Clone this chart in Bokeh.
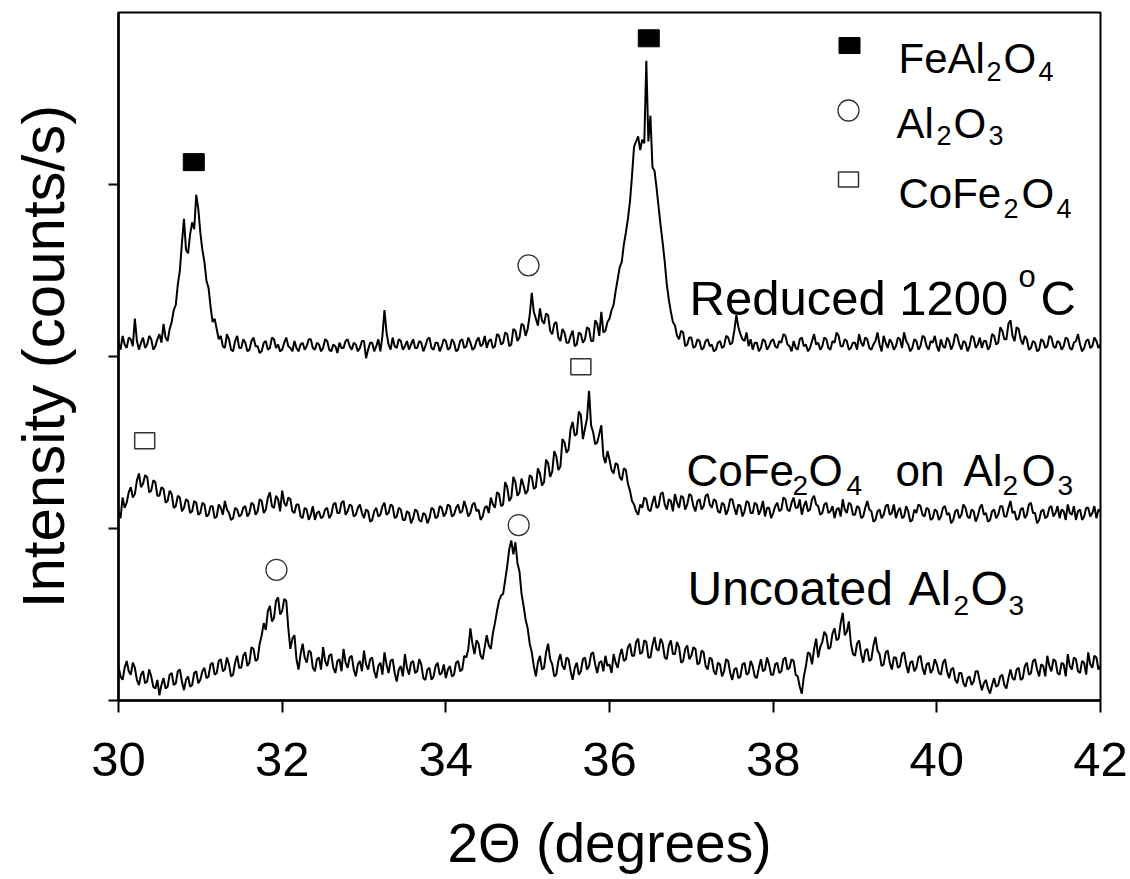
from bokeh.plotting import figure
from bokeh.models import Label, FixedTicker
from bokeh.embed import file_html
from bokeh.resources import INLINE

# ---------------- data ----------------
scan_start = 30.0
scan_step = 0.025

reduced_1200 = [
    2.08, 2.04, 2.12, 2.07, 2.05, 2.11, 2.10, 2.06, 2.22, 2.09, 2.04, 2.08, 2.11, 2.05, 2.07, 2.12, 2.10, 2.04, 2.06, 2.10,
    2.13, 2.08, 2.19, 2.11, 2.09, 2.16, 2.20, 2.27, 2.30, 2.42, 2.50, 2.66, 2.80, 2.62, 2.60, 2.71, 2.78, 2.74, 2.94, 2.86,
    2.72, 2.62, 2.55, 2.44, 2.40, 2.29, 2.20, 2.22, 2.16, 2.10, 2.12, 2.06, 2.05, 2.13, 2.10, 2.04, 2.03, 2.09, 2.12, 2.05,
    2.05, 2.10, 2.08, 2.03, 2.04, 2.09, 2.11, 2.06, 2.06, 2.02, 2.03, 2.08, 2.09, 2.04, 2.05, 2.11, 2.10, 2.05, 2.07, 2.03,
    2.04, 2.08, 2.11, 2.06, 2.05, 2.03, 2.09, 2.05, 2.03, 2.07, 2.08, 2.04, 2.06, 2.10, 2.10, 2.05, 2.04, 2.08, 2.07, 2.03,
    2.05, 2.10, 2.09, 2.04, 2.03, 2.07, 2.06, 2.02, 2.08, 2.05, 2.05, 2.09, 2.10, 2.06, 2.04, 2.08, 2.07, 2.03, 2.05, 2.09,
    2.09, 1.99, 2.04, 2.08, 2.08, 2.03, 2.06, 2.10, 2.03, 2.12, 2.27, 2.14, 2.07, 2.04, 2.11, 2.06, 2.05, 2.10, 2.09, 2.04,
    2.06, 2.09, 2.04, 2.07, 2.10, 2.05, 2.05, 2.09, 2.08, 2.03, 2.06, 2.10, 2.11, 2.05, 2.04, 2.08, 2.08, 2.03, 2.06, 2.10,
    2.09, 2.04, 2.05, 2.10, 2.08, 2.03, 2.04, 2.09, 2.10, 2.05, 2.06, 2.11, 2.08, 2.04, 2.05, 2.09, 2.11, 2.06, 2.07, 2.12,
    2.05, 2.09, 2.10, 2.05, 2.06, 2.13, 2.12, 2.07, 2.08, 2.14, 2.13, 2.06, 2.07, 2.16, 2.15, 2.09, 2.11, 2.19, 2.18, 2.12,
    2.16, 2.24, 2.37, 2.26, 2.22, 2.18, 2.28, 2.21, 2.19, 2.25, 2.24, 2.15, 2.13, 2.19, 2.20, 2.11, 2.09, 2.16, 2.14, 2.08,
    2.08, 2.12, 2.15, 2.06, 2.07, 2.14, 2.13, 2.08, 2.10, 2.17, 2.16, 2.09, 2.09, 2.21, 2.19, 2.12, 2.26, 2.14, 2.15, 2.20,
    2.22, 2.27, 2.30, 2.38, 2.45, 2.52, 2.55, 2.65, 2.72, 2.80, 2.90, 3.05, 3.22, 3.25, 3.28, 3.20, 3.26, 3.24, 3.72, 3.25,
    3.40, 3.10, 3.08, 2.98, 2.87, 2.76, 2.66, 2.55, 2.42, 2.33, 2.26, 2.20, 2.18, 2.12, 2.10, 2.15, 2.14, 2.06, 2.07, 2.11,
    2.11, 2.05, 2.06, 2.10, 2.09, 2.04, 2.05, 2.09, 2.10, 2.06, 2.07, 2.03, 2.04, 2.08, 2.09, 2.05, 2.06, 2.12, 2.11, 2.07,
    2.08, 2.15, 2.24, 2.17, 2.13, 2.10, 2.09, 2.14, 2.06, 2.10, 2.04, 2.08, 2.08, 2.03, 2.05, 2.10, 2.09, 2.04, 2.06, 2.09,
    2.10, 2.06, 2.05, 2.09, 2.08, 2.13, 2.12, 2.07, 2.06, 2.03, 2.09, 2.05, 2.04, 2.10, 2.11, 2.06, 2.07, 2.03, 2.05, 2.09,
    2.13, 2.07, 2.08, 2.04, 2.06, 2.11, 2.10, 2.05, 2.04, 2.09, 2.08, 2.14, 2.12, 2.06, 2.06, 2.10, 2.09, 2.04, 2.05, 2.08,
    2.08, 2.04, 2.13, 2.08, 2.06, 2.11, 2.10, 2.05, 2.04, 2.07, 2.09, 2.14, 2.07, 2.03, 2.12, 2.08, 2.05, 2.10, 2.08, 2.04,
    2.06, 2.11, 2.10, 2.05, 2.14, 2.09, 2.07, 2.03, 2.05, 2.10, 2.09, 2.04, 2.06, 2.12, 2.11, 2.06, 2.04, 2.09, 2.08, 2.12,
    2.06, 2.03, 2.10, 2.06, 2.05, 2.11, 2.09, 2.04, 2.07, 2.13, 2.12, 2.07, 2.04, 2.09, 2.08, 2.03, 2.06, 2.12, 2.11, 2.05,
    2.07, 2.11, 2.05, 2.09, 2.09, 2.04, 2.06, 2.13, 2.12, 2.07, 2.08, 2.17, 2.15, 2.10, 2.10, 2.19, 2.21, 2.12, 2.09, 2.17,
    2.16, 2.10, 2.07, 2.12, 2.10, 2.04, 2.05, 2.09, 2.08, 2.03, 2.04, 2.10, 2.09, 2.05, 2.06, 2.12, 2.11, 2.06, 2.05, 2.09,
    2.08, 2.04, 2.06, 2.11, 2.10, 2.05, 2.04, 2.08, 2.09, 2.13, 2.07, 2.03, 2.05, 2.09, 2.10, 2.05, 2.06, 2.11, 2.09, 2.05,
    2.07,
]

cofe2o4_on_al2o3 = [
    1.10, 1.06, 1.18, 1.12, 1.15, 1.21, 1.24, 1.18, 1.20, 1.28, 1.32, 1.24, 1.26, 1.31, 1.30, 1.21, 1.22, 1.28, 1.27, 1.19,
    1.19, 1.24, 1.23, 1.15, 1.16, 1.22, 1.20, 1.12, 1.13, 1.19, 1.18, 1.10, 1.12, 1.17, 1.16, 1.09, 1.10, 1.16, 1.15, 1.08,
    1.09, 1.15, 1.14, 1.07, 1.08, 1.13, 1.13, 1.06, 1.07, 1.14, 1.12, 1.08, 1.16, 1.11, 1.09, 1.05, 1.06, 1.12, 1.11, 1.07,
    1.08, 1.12, 1.13, 1.07, 1.09, 1.15, 1.14, 1.08, 1.10, 1.17, 1.16, 1.09, 1.11, 1.18, 1.21, 1.13, 1.12, 1.19, 1.17, 1.10,
    1.22, 1.15, 1.13, 1.18, 1.17, 1.10, 1.09, 1.14, 1.14, 1.07, 1.06, 1.12, 1.11, 1.05, 1.08, 1.13, 1.05, 1.09, 1.10, 1.06,
    1.07, 1.11, 1.12, 1.06, 1.08, 1.14, 1.15, 1.09, 1.09, 1.15, 1.16, 1.08, 1.10, 1.14, 1.13, 1.07, 1.08, 1.12, 1.14, 1.09,
    1.06, 1.11, 1.10, 1.04, 1.05, 1.10, 1.12, 1.07, 1.08, 1.13, 1.15, 1.08, 1.09, 1.14, 1.13, 1.06, 1.07, 1.12, 1.11, 1.05,
    1.05, 1.10, 1.09, 1.03, 1.06, 1.11, 1.10, 1.05, 1.04, 1.09, 1.08, 1.03, 1.06, 1.12, 1.11, 1.06, 1.07, 1.13, 1.12, 1.07,
    1.09, 1.14, 1.13, 1.07, 1.08, 1.12, 1.14, 1.09, 1.10, 1.16, 1.12, 1.07, 1.09, 1.14, 1.15, 1.10, 1.11, 1.05, 1.07, 1.12,
    1.13, 1.09, 1.18, 1.14, 1.12, 1.21, 1.20, 1.13, 1.14, 1.27, 1.24, 1.16, 1.18, 1.30, 1.27, 1.19, 1.21, 1.29, 1.25, 1.20,
    1.22, 1.31, 1.30, 1.23, 1.24, 1.35, 1.32, 1.25, 1.27, 1.40, 1.38, 1.30, 1.33, 1.45, 1.42, 1.34, 1.36, 1.52, 1.50, 1.44,
    1.46, 1.58, 1.62, 1.54, 1.55, 1.68, 1.66, 1.52, 1.58, 1.64, 1.80, 1.60, 1.56, 1.49, 1.50, 1.55, 1.60, 1.42, 1.38, 1.45,
    1.40, 1.34, 1.32, 1.38, 1.37, 1.30, 1.28, 1.35, 1.34, 1.26, 1.22, 1.16, 1.14, 1.10, 1.08, 1.14, 1.12, 1.18, 1.17, 1.11,
    1.10, 1.15, 1.19, 1.12, 1.13, 1.20, 1.21, 1.14, 1.11, 1.17, 1.16, 1.10, 1.20, 1.15, 1.12, 1.19, 1.18, 1.11, 1.14, 1.20,
    1.19, 1.13, 1.10, 1.16, 1.17, 1.11, 1.13, 1.19, 1.20, 1.14, 1.12, 1.17, 1.16, 1.10, 1.09, 1.15, 1.14, 1.08, 1.11, 1.17,
    1.17, 1.12, 1.08, 1.14, 1.13, 1.07, 1.10, 1.16, 1.15, 1.09, 1.09, 1.15, 1.14, 1.08, 1.11, 1.16, 1.07, 1.12, 1.12, 1.06,
    1.09, 1.13, 1.15, 1.10, 1.11, 1.18, 1.17, 1.11, 1.10, 1.15, 1.18, 1.12, 1.12, 1.17, 1.08, 1.13, 1.16, 1.10, 1.11, 1.17,
    1.19, 1.14, 1.13, 1.08, 1.09, 1.14, 1.15, 1.09, 1.10, 1.13, 1.06, 1.11, 1.12, 1.07, 1.17, 1.11, 1.09, 1.15, 1.14, 1.08,
    1.08, 1.13, 1.12, 1.06, 1.07, 1.12, 1.16, 1.11, 1.10, 1.04, 1.05, 1.10, 1.11, 1.06, 1.08, 1.13, 1.14, 1.08, 1.09, 1.14,
    1.06, 1.10, 1.12, 1.06, 1.07, 1.13, 1.10, 1.04, 1.05, 1.11, 1.09, 1.14, 1.13, 1.08, 1.07, 1.12, 1.11, 1.05, 1.06, 1.11,
    1.10, 1.05, 1.07, 1.12, 1.13, 1.08, 1.09, 1.03, 1.05, 1.10, 1.11, 1.06, 1.08, 1.14, 1.12, 1.07, 1.06, 1.11, 1.10, 1.04,
    1.07, 1.12, 1.14, 1.08, 1.09, 1.04, 1.05, 1.10, 1.11, 1.06, 1.08, 1.13, 1.13, 1.07, 1.07, 1.12, 1.16, 1.09, 1.10, 1.05,
    1.06, 1.11, 1.12, 1.06, 1.08, 1.14, 1.15, 1.09, 1.09, 1.03, 1.05, 1.10, 1.11, 1.06, 1.07, 1.12, 1.13, 1.07, 1.09, 1.13,
    1.06, 1.11, 1.10, 1.05, 1.14, 1.09, 1.08, 1.13, 1.05, 1.10, 1.11, 1.05, 1.07, 1.12, 1.12, 1.07, 1.09, 1.13, 1.06, 1.11,
    1.10,
]

uncoated_al2o3 = [
    0.20, 0.14, 0.12, 0.19, 0.23, 0.17, 0.15, 0.22, 0.19, 0.12, 0.09, 0.15, 0.17, 0.10, 0.11, 0.18, 0.14, 0.08, 0.07, 0.12,
    0.03, 0.09, 0.13, 0.07, 0.08, 0.15, 0.16, 0.09, 0.10, 0.17, 0.18, 0.11, 0.06, 0.12, 0.14, 0.08, 0.09, 0.16, 0.17, 0.10,
    0.12, 0.17, 0.19, 0.13, 0.14, 0.21, 0.22, 0.15, 0.16, 0.23, 0.24, 0.17, 0.18, 0.25, 0.21, 0.14, 0.15, 0.22, 0.26, 0.19,
    0.19, 0.26, 0.28, 0.20, 0.22, 0.31, 0.30, 0.23, 0.24, 0.33, 0.38, 0.45, 0.41, 0.52, 0.55, 0.46, 0.48, 0.58, 0.60, 0.50,
    0.52, 0.59, 0.58, 0.42, 0.30, 0.36, 0.38, 0.24, 0.18, 0.27, 0.33, 0.25, 0.22, 0.29, 0.28, 0.19, 0.17, 0.24, 0.25, 0.18,
    0.31, 0.23, 0.20, 0.26, 0.27, 0.19, 0.16, 0.23, 0.24, 0.17, 0.30, 0.22, 0.19, 0.25, 0.26, 0.18, 0.14, 0.21, 0.23, 0.17,
    0.29, 0.21, 0.18, 0.24, 0.25, 0.17, 0.13, 0.20, 0.22, 0.15, 0.28, 0.21, 0.16, 0.23, 0.24, 0.16, 0.11, 0.18, 0.20, 0.14,
    0.27, 0.19, 0.15, 0.22, 0.23, 0.16, 0.17, 0.24, 0.21, 0.13, 0.12, 0.18, 0.19, 0.12, 0.14, 0.20, 0.22, 0.15, 0.16, 0.21,
    0.13, 0.18, 0.20, 0.14, 0.15, 0.22, 0.23, 0.17, 0.18, 0.26, 0.25, 0.30, 0.42, 0.33, 0.27, 0.35, 0.33, 0.26, 0.24, 0.31,
    0.38, 0.32, 0.30, 0.39, 0.45, 0.52, 0.58, 0.61, 0.62, 0.70, 0.78, 0.88, 0.93, 0.85, 0.92, 0.80, 0.75, 0.62, 0.55, 0.47,
    0.42, 0.33, 0.28, 0.20, 0.14, 0.22, 0.26, 0.18, 0.19, 0.28, 0.33, 0.24, 0.21, 0.14, 0.15, 0.23, 0.27, 0.20, 0.18, 0.25,
    0.24, 0.17, 0.12, 0.19, 0.22, 0.15, 0.17, 0.24, 0.25, 0.18, 0.20, 0.27, 0.28, 0.21, 0.16, 0.22, 0.23, 0.17, 0.26, 0.20,
    0.21, 0.16, 0.27, 0.22, 0.19, 0.26, 0.30, 0.23, 0.24, 0.31, 0.33, 0.26, 0.26, 0.34, 0.36, 0.27, 0.28, 0.35, 0.34, 0.25,
    0.25, 0.32, 0.37, 0.30, 0.29, 0.36, 0.33, 0.25, 0.24, 0.32, 0.35, 0.27, 0.27, 0.34, 0.31, 0.22, 0.23, 0.30, 0.32, 0.24,
    0.26, 0.31, 0.30, 0.21, 0.22, 0.29, 0.28, 0.20, 0.18, 0.25, 0.24, 0.17, 0.15, 0.22, 0.21, 0.14, 0.17, 0.24, 0.23, 0.16,
    0.12, 0.18, 0.19, 0.13, 0.14, 0.21, 0.22, 0.15, 0.16, 0.23, 0.20, 0.14, 0.13, 0.19, 0.24, 0.17, 0.18, 0.25, 0.21, 0.15,
    0.15, 0.21, 0.22, 0.16, 0.17, 0.24, 0.25, 0.18, 0.19, 0.24, 0.23, 0.15, 0.14, 0.08, 0.04, 0.14, 0.20, 0.28, 0.27, 0.21,
    0.30, 0.36, 0.25, 0.31, 0.34, 0.40, 0.38, 0.30, 0.31, 0.39, 0.42, 0.35, 0.36, 0.45, 0.51, 0.38, 0.40, 0.46, 0.33, 0.27,
    0.26, 0.33, 0.35, 0.27, 0.22, 0.29, 0.30, 0.23, 0.24, 0.32, 0.37, 0.29, 0.27, 0.20, 0.21, 0.28, 0.29, 0.22, 0.18, 0.25,
    0.25, 0.19, 0.20, 0.27, 0.28, 0.21, 0.16, 0.22, 0.23, 0.17, 0.19, 0.25, 0.26, 0.19, 0.15, 0.21, 0.22, 0.16, 0.18, 0.24,
    0.21, 0.16, 0.15, 0.22, 0.24, 0.17, 0.13, 0.18, 0.19, 0.12, 0.10, 0.16, 0.16, 0.10, 0.08, 0.13, 0.14, 0.09, 0.11, 0.17,
    0.17, 0.11, 0.06, 0.10, 0.12, 0.07, 0.04, 0.09, 0.13, 0.08, 0.09, 0.14, 0.15, 0.09, 0.07, 0.13, 0.18, 0.13, 0.12, 0.18,
    0.19, 0.12, 0.13, 0.20, 0.22, 0.15, 0.16, 0.23, 0.24, 0.18, 0.14, 0.21, 0.20, 0.14, 0.26, 0.20, 0.17, 0.24, 0.23, 0.16,
    0.15, 0.22, 0.21, 0.14, 0.27, 0.20, 0.18, 0.25, 0.24, 0.17, 0.16, 0.23, 0.22, 0.15, 0.28, 0.21, 0.19, 0.26, 0.25, 0.18,
    0.20,
]

# phase markers (peak identifications)
feal2o4_x = [30.92, 36.48]
feal2o4_y = [3.13, 3.85]
al2o3_x = [35.01, 31.93, 34.89]
al2o3_y = [2.53, 0.76, 1.02]
cofe2o4_x = [30.32, 35.65]
cofe2o4_y = [1.51, 1.94]

x_ticks = [30, 32, 34, 36, 38, 40, 42]
y_ticks = [0, 1, 2, 3]


def scan_axis(series):
    return [round(scan_start + scan_step * i, 3) for i in range(len(series))]


# ---------------- layout helpers ----------------
FONT = "Liberation Sans"
X0, X1, Y0, Y1 = 30.0, 42.0, 0.0, 4.0
FL, FR, FT, FB = 118, 1100, 12, 700


def dx(px):
    return X0 + (px - FL) * (X1 - X0) / (FR - FL)


def dy(py):
    return Y0 + (FB - py) * (Y1 - Y0) / (FB - FT)


p = figure(width=1130, height=879, x_range=(X0, X1), y_range=(Y0, Y1),
           output_backend="svg", toolbar_location=None,
           min_border_left=FL, min_border_right=1130 - FR,
           min_border_top=FT, min_border_bottom=879 - FB)
p.background_fill_color = "white"
p.border_fill_color = "white"
p.outline_line_color = "black"
p.outline_line_width = 2
p.xgrid.visible = False
p.ygrid.visible = False

for ax in (p.xaxis[0], p.yaxis[0]):
    ax.axis_line_color = "black"
    ax.axis_line_width = 2.5
    ax.major_tick_line_color = "black"
    ax.major_tick_line_width = 2
    ax.major_tick_in = 0
    ax.minor_tick_line_color = None
    ax.major_label_text_font = FONT
    ax.major_label_text_color = "black"
    ax.axis_label_text_font = FONT
    ax.axis_label_text_font_style = "normal"
    ax.axis_label_text_color = "black"

p.xaxis.ticker = FixedTicker(ticks=x_ticks)
p.xaxis.major_tick_out = 12
p.xaxis.major_label_text_font_size = "49px"
p.xaxis.major_label_standoff = 30
p.xaxis.axis_label = "2\u0398 (degrees)"
p.xaxis.axis_label_text_font_size = "55px"
p.xaxis.axis_label_standoff = 33

p.yaxis.ticker = FixedTicker(ticks=y_ticks)
p.yaxis.major_tick_out = 10
p.yaxis.major_label_text_font_size = "10px"
p.yaxis.major_label_text_color = None
p.yaxis.major_label_standoff = 0
p.yaxis.axis_label = "Intensity (counts/s)"
p.yaxis.axis_label_text_font_size = "60px"
p.yaxis.axis_label_standoff = 32

# ---------------- traces ----------------
for series in (reduced_1200, cofe2o4_on_al2o3, uncoated_al2o3):
    p.line(scan_axis(series), series, line_color="black", line_width=2)

# ---------------- phase markers ----------------
p.rect(feal2o4_x, feal2o4_y, width=21, height=17, width_units="screen", height_units="screen",
       fill_color="black", line_color="black")
p.rect(cofe2o4_x, cofe2o4_y, width=20, height=16, width_units="screen", height_units="screen",
       fill_color="white", line_color="#333333", line_width=1.5)
p.scatter(al2o3_x, al2o3_y, marker="circle", size=21, fill_color="white",
          line_color="#333333", line_width=1.3)

# ---------------- legend keys ----------------
p.rect([dx(849)], [dy(45)], width=21, height=16, width_units="screen", height_units="screen",
       fill_color="black", line_color="black")
p.scatter([dx(848)], [dy(110)], marker="circle", size=21, fill_color="white",
          line_color="#333333", line_width=1.3)
p.rect([dx(848)], [dy(179)], width=20, height=15, width_units="screen", height_units="screen",
       fill_color="white", line_color="#333333", line_width=1.5)


def txt(px, py, s, size):
    p.add_layout(Label(x=dx(px), y=dy(py), text=s, text_font=FONT,
                       text_font_size=f"{size}px", text_color="black",
                       text_align="left", text_baseline="alphabetic"))


# legend texts
LS, LSUB = 42, 27
txt(898, 58, "FeAl", LS); txt(986, 71, "2", LSUB); txt(1003, 58, "O", LS); txt(1038, 71, "4", LSUB)
txt(896, 123, "Al", LS); txt(936, 135, "2", LSUB); txt(953, 123, "O", LS); txt(988, 135, "3", LSUB)
txt(898, 193, "CoFe", LS); txt(1003, 208, "2", LSUB); txt(1021, 193, "O", LS); txt(1056, 208, "4", LSUB)

# trace labels
TSUB = 28
txt(689, 297, "Reduced 1200", 49); txt(1018, 276, "o", 31); txt(1040, 297, "C", 49)
CS = 44
txt(686, 470, "CoFe", CS); txt(792, 485, "2", TSUB); txt(808, 470, "O", CS); txt(846, 485, "4", TSUB)
txt(895, 470, "on", CS); txt(963, 470, "Al", CS); txt(1002, 485, "2", TSUB); txt(1021, 470, "O", CS)
txt(1057, 485, "3", TSUB)
txt(687, 588, "Uncoated", 48); txt(908, 588, "Al", 48); txt(953, 605, "2", TSUB); txt(970, 588, "O", 48)
txt(1008, 605, "3", TSUB)

open("out.html", "w").write(file_html(p, INLINE))
